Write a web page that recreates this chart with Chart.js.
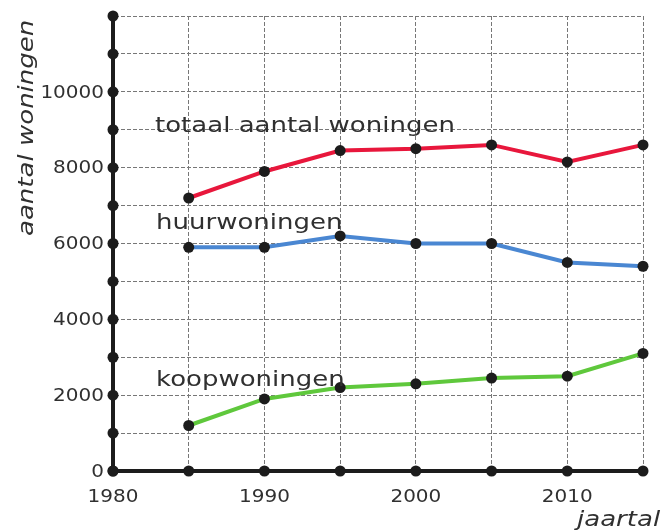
<!DOCTYPE html>
<html>
<head>
<meta charset="utf-8">
<script src="https://cdn.jsdelivr.net/npm/chart.js@4.4.1/dist/chart.umd.min.js"></script>
<style>
  html, body { margin: 0; padding: 0; background: #ffffff; }
  #wrap { width: 669px; height: 530px; }
</style>
</head>
<body>
<div id="wrap"><canvas id="c" width="669" height="530"></canvas></div>
<script>
// ---- data ----
const years = [1985, 1990, 1995, 2000, 2005, 2010, 2015];
const totaal = [7200, 7900, 8450, 8500, 8600, 8150, 8600];
const huur   = [5900, 5900, 6200, 6000, 6000, 5500, 5400];
const koop   = [1200, 1900, 2200, 2300, 2450, 2500, 3100];
const seriesNames = ['totaal aantal woningen', 'huurwoningen', 'koopwoningen'];
const yTickLabels = [0, 2000, 4000, 6000, 8000, 10000];
const xTickLabels = [1980, 1990, 2000, 2010];
const yTitle = 'aantal woningen';
const xTitle = 'jaartal';

const TEXT = '#303030';
const FONT = '"DejaVu Sans", Verdana, sans-serif';

function pts(vals) { return years.map((y, i) => ({ x: y, y: vals[i] })); }

function drawText(ctx, text, x, y, font, align, baseline, sx, sy, rot) {
  ctx.save();
  ctx.translate(x, y);
  if (rot) ctx.rotate(rot);
  ctx.scale(sx, sy);
  ctx.font = font;
  ctx.fillStyle = TEXT;
  ctx.textAlign = align;
  ctx.textBaseline = baseline;
  ctx.fillText(text, 0, 0);
  ctx.restore();
}

const decor = {
  id: 'decor',
  afterDatasetsDraw(chart) {
    const ctx = chart.ctx;
    const xs = chart.scales.x, ys = chart.scales.y;
    const ca = chart.chartArea;
    // axis dots
    ctx.save();
    ctx.fillStyle = '#1c1c1c';
    for (let v = 0; v <= 12000; v += 1000) {
      ctx.beginPath();
      ctx.arc(ca.left, ys.getPixelForValue(v), 5.5, 0, Math.PI * 2);
      ctx.fill();
    }
    for (let v = 1980; v <= 2015; v += 5) {
      ctx.beginPath();
      ctx.arc(xs.getPixelForValue(v), ca.bottom, 5.5, 0, Math.PI * 2);
      ctx.fill();
    }
    ctx.restore();
    // tick labels
    yTickLabels.forEach(v => {
      drawText(ctx, String(v), ca.left - 9, ys.getPixelForValue(v) + 1, '20px ' + FONT, 'right', 'middle', 1, 0.9);
    });
    xTickLabels.forEach(v => {
      drawText(ctx, String(v), xs.getPixelForValue(v), ca.bottom + 26, '20px ' + FONT, 'center', 'middle', 1, 0.9);
    });
    // series labels
    drawText(ctx, seriesNames[0], 155, 132, '26px ' + FONT, 'left', 'alphabetic', 1, 0.8);
    drawText(ctx, seriesNames[1], 156, 229, '26px ' + FONT, 'left', 'alphabetic', 1, 0.8);
    drawText(ctx, seriesNames[2], 156, 386, '26px ' + FONT, 'left', 'alphabetic', 1, 0.8);
    // axis titles
    drawText(ctx, yTitle, 33, 236, 'italic 26px ' + FONT, 'left', 'alphabetic', 1, 0.8, -Math.PI / 2);
    drawText(ctx, xTitle, 577, 526, 'italic 26px ' + FONT, 'left', 'alphabetic', 1, 0.8);
  }
};

const lineDs = (label, vals, color) => ({
  label, data: pts(vals),
  borderColor: color, borderWidth: 4,
  pointRadius: 5.5, pointBackgroundColor: '#1c1c1c', pointBorderWidth: 0,
  pointHoverRadius: 5.5, tension: 0, clip: false, fill: false
});

new Chart(document.getElementById('c'), {
  type: 'line',
  data: {
    datasets: [
      lineDs(seriesNames[0], totaal, '#e8173c'),
      lineDs(seriesNames[1], huur, '#4a87d2'),
      lineDs(seriesNames[2], koop, '#5fc83c')
    ]
  },
  options: {
    responsive: false,
    animation: false,
    layout: { padding: { left: 113, right: 26, top: 16, bottom: 59 } },
    plugins: { legend: { display: false }, tooltip: { enabled: false } },
    scales: {
      x: {
        type: 'linear', min: 1980, max: 2015,
        ticks: { stepSize: 5, display: false },
        grid: {
          drawTicks: false, lineWidth: 1,
          color: c => (c.tick && c.tick.value === 1980) ? 'rgba(0,0,0,0)' : '#777777'
        },
        border: { display: true, color: '#1c1c1c', width: 4, dash: [4, 2] }
      },
      y: {
        min: 0, max: 12000,
        ticks: { stepSize: 1000, display: false },
        grid: {
          drawTicks: false, lineWidth: 1,
          color: c => (c.tick && c.tick.value === 0) ? 'rgba(0,0,0,0)' : '#777777'
        },
        border: { display: true, color: '#1c1c1c', width: 4, dash: [4, 2] }
      }
    }
  },
  plugins: [decor]
});
</script>
</body>
</html>
